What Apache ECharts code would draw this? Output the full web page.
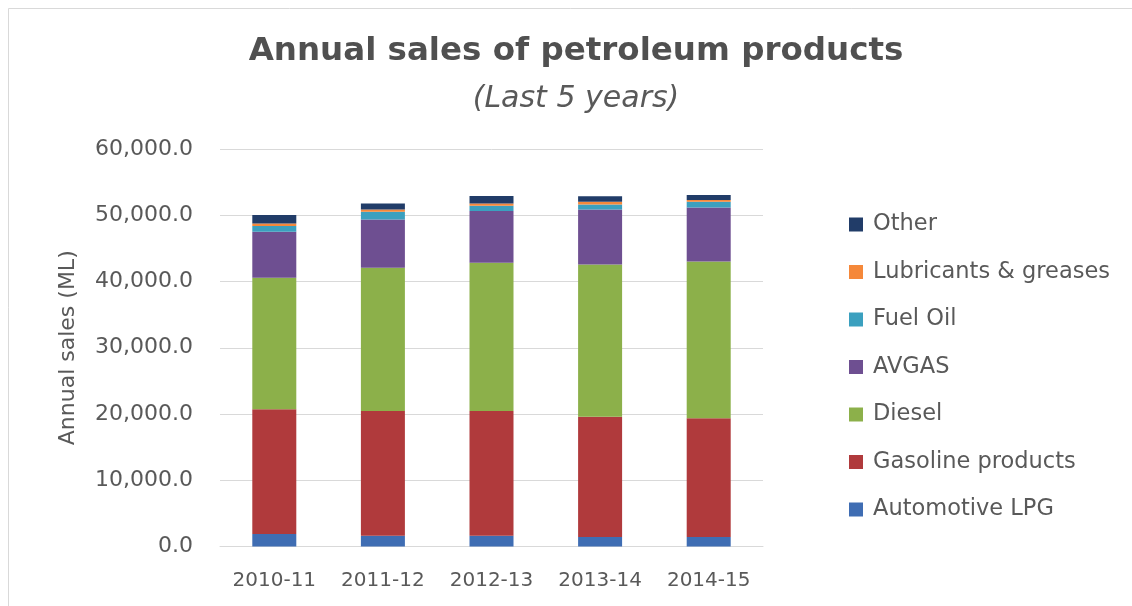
<!DOCTYPE html>
<html>
<head>
<meta charset="utf-8">
<script src="https://cdn.jsdelivr.net/npm/echarts@6/dist/echarts.min.js"></script>
<style>html,body{margin:0;padding:0;background:#fff;}#c{width:1132px;height:606px;}</style>
</head>
<body>
<div id="c"></div>
<script>
var categories = ['2010-11', '2011-12', '2012-13', '2013-14', '2014-15'];
var automotiveLPG = [1890, 1630, 1630, 1430, 1430];
var gasoline = [18810, 18820, 18820, 18150, 17910];
var diesel = [19860, 21620, 22380, 23000, 23690];
var avgas = [6940, 7300, 7800, 8300, 8150];
var fuelOil = [860, 1150, 800, 750, 850];
var lubricants = [410, 360, 360, 390, 260];
var other = [1250, 900, 1100, 860, 750];
var yTicks = [0, 10000, 20000, 30000, 40000, 50000, 60000];

var seriesDefs = [
  ['Automotive LPG', automotiveLPG, '#3F6DB3'],
  ['Gasoline products', gasoline, '#B03A3C'],
  ['Diesel', diesel, '#8CB04A'],
  ['AVGAS', avgas, '#6E4F91'],
  ['Fuel Oil', fuelOil, '#3BA0BF'],
  ['Lubricants & greases', lubricants, '#F5883A'],
  ['Other', other, '#213C68']
];

var font = '"DejaVu Sans", "Noto Sans", sans-serif';
var chart = echarts.init(document.getElementById('c'), null, {renderer: 'canvas'});
chart.setOption({
  backgroundColor: '#fff',
  animation: false,
  title: [{
    text: 'Annual sales of petroleum products',
    left: 571, textAlign: 'center', top: 30,
    textStyle: {fontFamily: font, fontSize: 32.5, fontWeight: 'bold', color: '#505050'}
  }, {
    text: '(Last 5 years)',
    left: 571, textAlign: 'center', top: 79,
    textStyle: {fontFamily: font, fontSize: 30, fontStyle: 'italic', fontWeight: 'normal', color: '#595959'}
  }],
  graphic: [{
    type: 'rect', shape: {x: 8.5, y: 8.5, width: 1140, height: 620},
    style: {fill: 'none', stroke: '#d9d9d9', lineWidth: 1}, silent: true
  }],
  legend: {
    orient: 'vertical', left: 844, top: 208,
    data: seriesDefs.map(function (d) { return d[0]; }).reverse(),
    itemWidth: 14, itemHeight: 14, itemGap: 24.5,
    icon: 'rect',
    textStyle: {fontFamily: font, fontSize: 22.5, color: '#595959', lineHeight: 22, padding: [0, 0, 0, 5]}
  },
  grid: {left: 220, right: 369, top: 149, bottom: 59.5, containLabel: false},
  xAxis: {
    type: 'category', data: categories,
    axisLine: {lineStyle: {color: '#d9d9d9'}},
    axisTick: {show: false},
    axisLabel: {fontFamily: font, fontSize: 20, color: '#595959', margin: 24, interval: 0, hideOverlap: false}
  },
  yAxis: {
    type: 'value', min: 0, max: 60000, interval: 10000,
    name: 'Annual sales (ML)', nameLocation: 'middle', nameGap: 141, nameRotate: 90,
    nameTextStyle: {fontFamily: font, fontSize: 22, color: '#595959'},
    axisLine: {show: false}, axisTick: {show: false},
    axisLabel: {
      fontFamily: font, fontSize: 22, color: '#595959', margin: 27,
      formatter: function (v) {
        return yTicks.indexOf(v) >= 0 ? v.toLocaleString('en-US', {minimumFractionDigits: 1, maximumFractionDigits: 1}) : '';
      }
    },
    splitLine: {lineStyle: {color: '#d9d9d9', width: 1}}
  },
  series: seriesDefs.map(function (d) {
    return {
      name: d[0], type: 'bar', stack: 'total', data: d[1], barWidth: 44,
      itemStyle: {color: d[2]}
    };
  })
});
</script>
</body>
</html>
